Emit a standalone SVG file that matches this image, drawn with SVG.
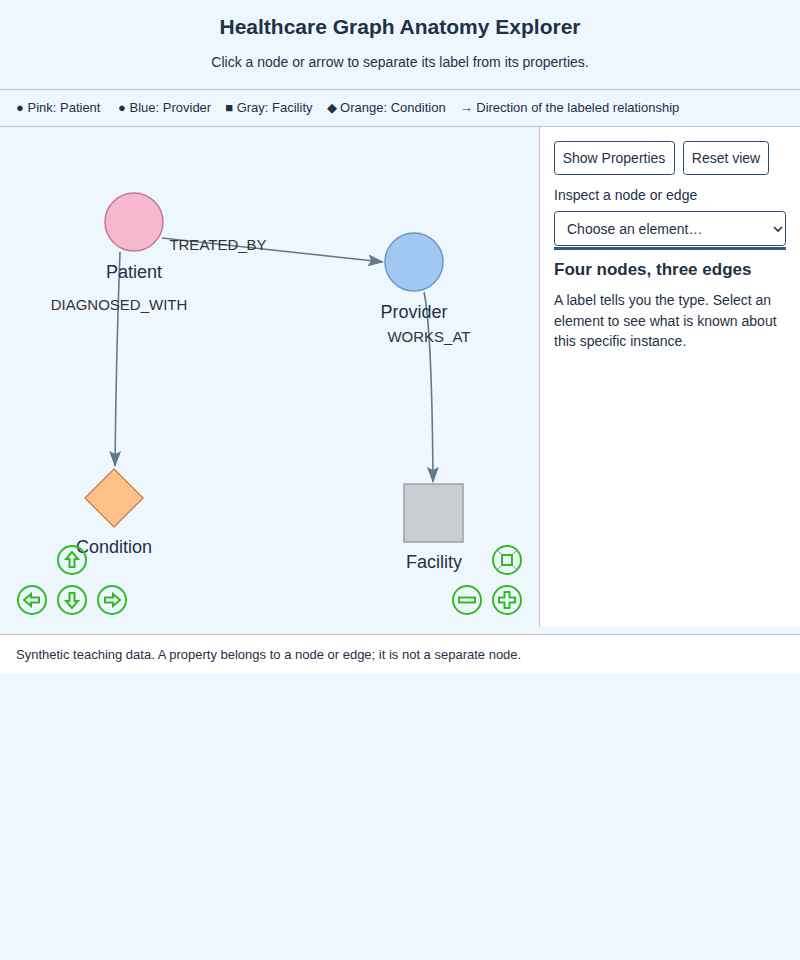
<svg xmlns="http://www.w3.org/2000/svg" width="800" height="960" viewBox="0 0 800 960">
<style>
text{font-family:"Liberation Sans",Arial,sans-serif;fill:#1f3147}
.lab{font-size:18px;text-anchor:middle}
.el{font-size:15px;fill:#333;text-anchor:middle}
.edge{stroke:#667790;stroke-width:1.6;fill:none}
.nav{fill:none;stroke:#33bb22;stroke-width:2}
.btn{fill:#fff;stroke:#2e4a6a;stroke-width:1}
</style>
<defs><marker id="ah" markerWidth="16" markerHeight="12" refX="15" refY="6" orient="auto" markerUnits="userSpaceOnUse"><path d="M0,0 L16,6 L0,12 L3,6 Z" fill="#667790"/></marker></defs>
<rect width="800" height="960" fill="#eff7fe"/>
<text x="400" y="34" font-size="21" font-weight="bold" text-anchor="middle">Healthcare Graph Anatomy Explorer</text>
<text x="400" y="67" font-size="14" text-anchor="middle">Click a node or arrow to separate its label from its properties.</text>
<line x1="0" y1="89.500" x2="800" y2="89.500" stroke="#b8c6d4"/>
<text x="16" y="112" font-size="13">● Pink: Patient <tspan dx="14">● Blue: Provider</tspan><tspan dx="14">■ Gray: Facility</tspan><tspan dx="14">◆ Orange: Condition</tspan><tspan dx="14">→ Direction of the labeled relationship</tspan></text>
<line x1="0" y1="126.500" x2="800" y2="126.500" stroke="#b8c6d4"/>
<rect x="540" y="127" width="260" height="500" fill="#fff"/>
<line x1="539.500" y1="127" x2="539.500" y2="627" stroke="#b8c6d4"/>
<g id="edges">
<path class="edge" d="M162,238 L383,262" marker-end="url(#ah)"/>
<path class="edge" d="M120,252 Q116,360 115,466" marker-end="url(#ah)"/>
<path class="edge" d="M424,292 Q432,330 433,482" marker-end="url(#ah)"/>
<text class="el" x="218" y="250">TREATED_BY</text>
<text class="el" x="119" y="310">DIAGNOSED_WITH</text>
<text class="el" x="429" y="342">WORKS_AT</text>
</g>
<g id="patient"><circle cx="134" cy="222" r="29" fill="#f6b8cf" stroke="#c27a98" stroke-width="1.5"/><text class="lab" x="134" y="278">Patient</text></g>
<g id="provider"><circle cx="414" cy="262" r="29" fill="#a0c8f2" stroke="#6e96c2" stroke-width="1.5"/><text class="lab" x="414" y="318">Provider</text></g>
<g id="condition"><path d="M114,469 L143,498 L114,527 L85,498 Z" fill="#ffc38a" stroke="#c98a4e" stroke-width="1.5"/><text class="lab" x="114" y="553">Condition</text></g>
<g id="facility"><rect x="404" y="484" width="59" height="58" fill="#c9ced3" stroke="#9aa0a6" stroke-width="1.5"/><text class="lab" x="434" y="568">Facility</text></g>
<g id="nav">
<circle class="nav" cx="72" cy="560" r="14"/><path class="nav" d="M72,552 L66,559 L69.500,559 L69.500,567 L74.500,567 L74.500,559 L78,559 Z" stroke-width="1.5"/>
<circle class="nav" cx="32" cy="600" r="14"/><path class="nav" d="M24,600 L31,594 L31,597.500 L39,597.500 L39,602.500 L31,602.500 L31,606 Z" stroke-width="1.5"/>
<circle class="nav" cx="72" cy="600" r="14"/><path class="nav" d="M72,608 L66,601 L69.500,601 L69.500,593 L74.500,593 L74.500,601 L78,601 Z" stroke-width="1.5"/>
<circle class="nav" cx="112" cy="600" r="14"/><path class="nav" d="M120,600 L113,594 L113,597.500 L105,597.500 L105,602.500 L113,602.500 L113,606 Z" stroke-width="1.5"/>
<circle class="nav" cx="507" cy="560" r="14"/><rect class="nav" x="502" y="555" width="10" height="10" stroke-width="1.5"/>
<path d="M498,551 l3,3 M516,551 l-3,3 M498,569 l3,-3 M516,569 l-3,-3" stroke="#888" stroke-width="1"/>
<circle class="nav" cx="467" cy="600" r="14"/><rect class="nav" x="459" y="597.500" width="16" height="5" stroke-width="1.5"/>
<circle class="nav" cx="507" cy="600" r="14"/><path class="nav" d="M504.500,592 h5 v5.500 h5.500 v5 h-5.500 v5.500 h-5 v-5.500 h-5.500 v-5 h5.500 Z" stroke-width="1.5"/>
</g>
<g id="panel">
<rect class="btn" x="554.500" y="141.500" width="120" height="33" rx="3"/><text x="614" y="163" font-size="14" text-anchor="middle">Show Properties</text>
<rect class="btn" x="683.500" y="141.500" width="85" height="33" rx="3"/><text x="726" y="163" font-size="14" text-anchor="middle">Reset view</text>
<text x="554" y="200" font-size="14">Inspect a node or edge</text>
<rect class="btn" x="554.500" y="211.500" width="231" height="34" rx="3"/><text x="567" y="234" font-size="14">Choose an element…</text>
<path d="M774,227 L778,231 L782,227" stroke="#1f3147" stroke-width="1.6" fill="none"/>
<rect x="554" y="247" width="232" height="3" fill="#2e5a88"/>
<text x="554" y="275" font-size="17" font-weight="bold">Four nodes, three edges</text>
<text x="554" y="305" font-size="14">A label tells you the type. Select an</text>
<text x="554" y="326" font-size="14">element to see what is known about</text>
<text x="554" y="346" font-size="14">this specific instance.</text>
</g>
<line x1="0" y1="634.500" x2="800" y2="634.500" stroke="#b8c6d4"/>
<rect x="0" y="635" width="800" height="39" fill="#fff"/>
<text x="16" y="659" font-size="13">Synthetic teaching data. A property belongs to a node or edge; it is not a separate node.</text>
</svg>
